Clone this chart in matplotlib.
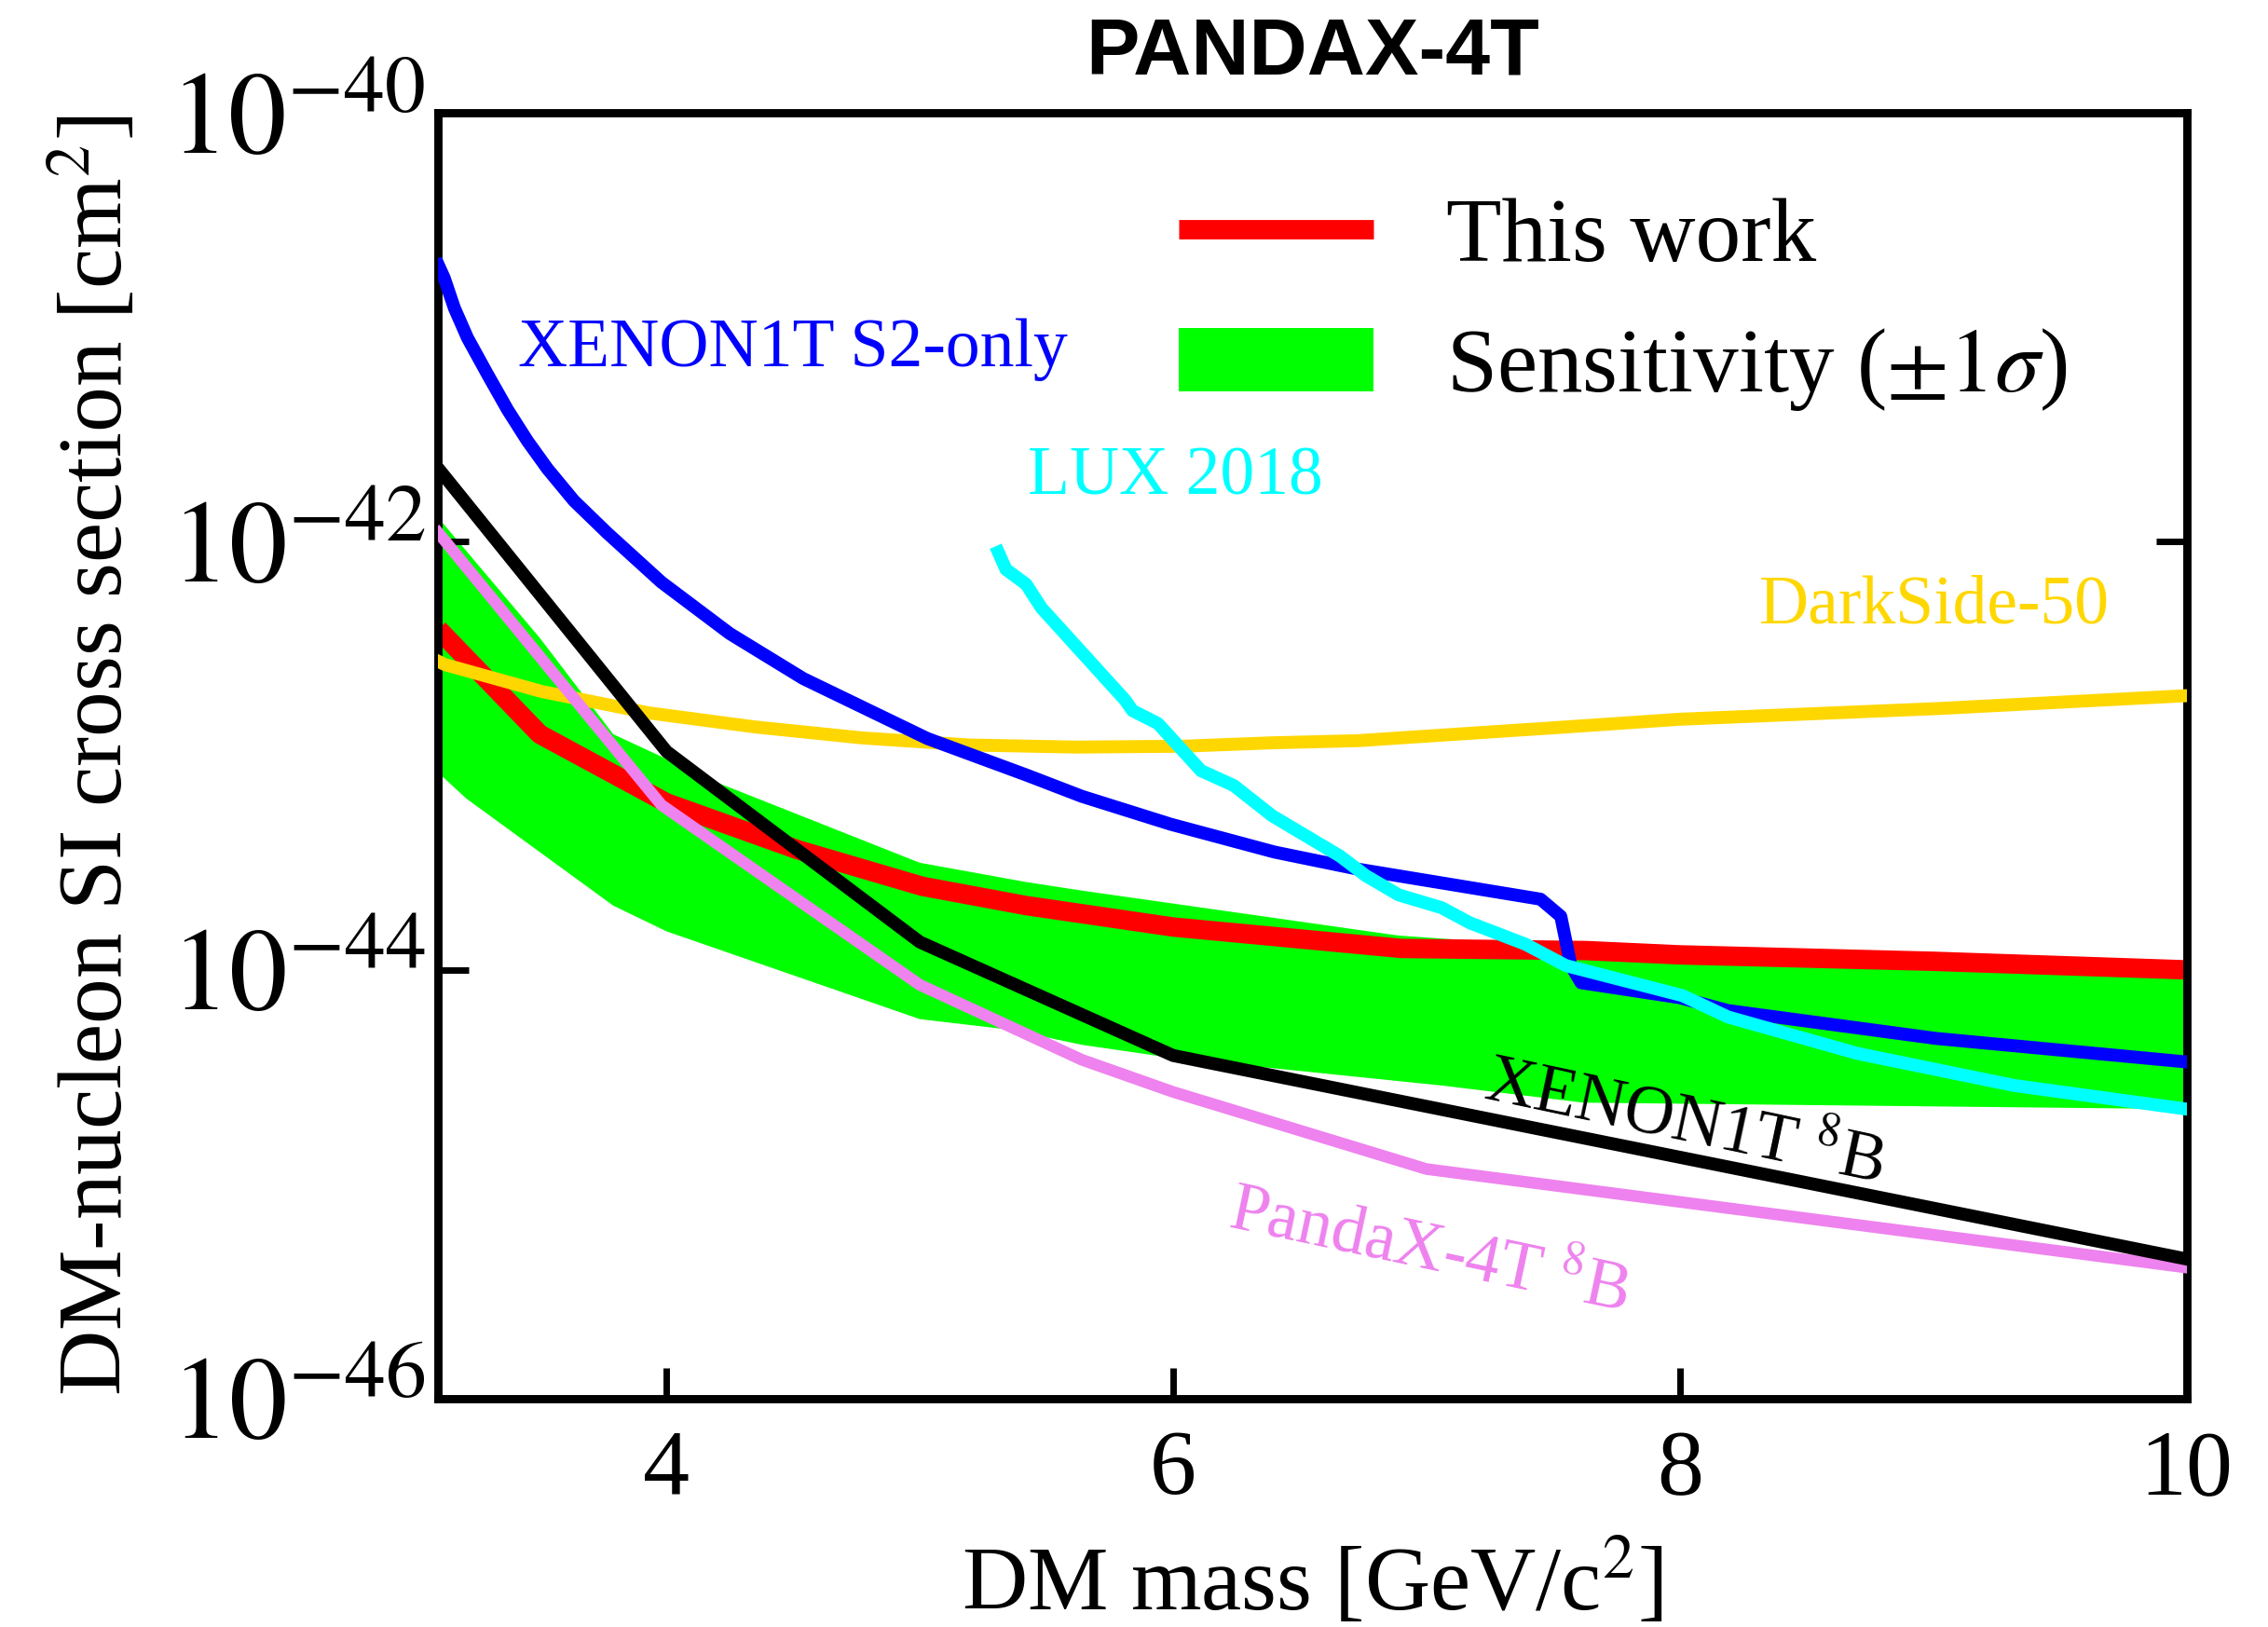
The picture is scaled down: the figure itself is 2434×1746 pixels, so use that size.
import numpy as np
import matplotlib
matplotlib.use('Agg')
import matplotlib.pyplot as plt
from matplotlib.lines import Line2D
from matplotlib.patches import Patch
from matplotlib.ticker import NullLocator

plt.rcParams['font.family'] = ['Liberation Serif', 'DejaVu Serif']
plt.rcParams['mathtext.fontset'] = 'stix'

# ---------------- data (mass in GeV/c^2, log10 of cross section in cm^2) ----------------
this_work_mass = [3.10, 3.50, 4.00, 4.52, 5.01, 5.42, 6.00, 6.90, 7.63, 8.00, 9.00, 10.0]
this_work_log = [-42.41, -42.90, -43.22, -43.44, -43.61, -43.70, -43.80, -43.90, -43.91, -43.93, -43.96, -44.00]

band_upper_mass = [3.10, 3.50, 3.79, 4.21, 5.00, 5.42, 5.64, 6.89, 8.00, 9.00, 10.0]
band_upper_log = [-41.89, -42.45, -42.90, -43.13, -43.50, -43.59, -43.63, -43.84, -43.93, -43.96, -44.00]
band_lower_mass = [3.10, 3.21, 3.79, 4.00, 5.00, 5.36, 5.64, 5.99, 7.06, 7.62, 10.0]
band_lower_log = [-43.08, -43.20, -43.70, -43.82, -44.23, -44.28, -44.35, -44.41, -44.54, -44.62, -44.65]

s2_mass = [3.10, 3.123, 3.163, 3.215, 3.294, 3.373, 3.451, 3.530, 3.635, 3.766, 3.98, 4.25, 4.54,
           5.03, 5.42, 5.64, 5.99, 6.40, 6.73, 7.45, 7.53, 7.57, 7.61, 8.00, 8.19, 9.01, 10.0]
s2_log = [-40.71, -40.77, -40.91, -41.05, -41.22, -41.385, -41.53, -41.66, -41.81, -41.96, -42.19,
          -42.43, -42.64, -42.92, -43.09, -43.19, -43.32, -43.45, -43.53, -43.67, -43.75, -43.98,
          -44.06, -44.13, -44.19, -44.32, -44.43]

lux_mass = [5.31, 5.34, 5.42, 5.48, 5.81, 5.84, 5.94, 6.11, 6.24, 6.39, 6.66, 6.76, 6.89, 7.06,
            7.17, 7.39, 7.55, 8.01, 8.19, 8.70, 9.32, 10.0]
lux_log = [-42.05, -42.13, -42.20, -42.31, -42.74, -42.79, -42.85, -43.07, -43.14, -43.28, -43.47,
           -43.56, -43.65, -43.71, -43.78, -43.88, -43.98, -44.12, -44.22, -44.39, -44.54, -44.65]

ds_mass = [3.10, 3.126, 3.506, 3.928, 4.35, 4.771, 5.193, 5.615, 6.037, 6.39, 6.73, 7.50, 8.00,
           9.02, 10.0]
ds_log = [-42.56, -42.575, -42.70, -42.80, -42.866, -42.917, -42.95, -42.96, -42.956, -42.94,
          -42.93, -42.87, -42.83, -42.78, -42.72]

x8b_mass = [3.10, 4.00, 5.00, 6.00, 10.0]
x8b_log = [-41.66, -42.98, -43.87, -44.40, -45.35]

p8b_mass = [3.10, 3.98, 5.00, 5.64, 6.00, 7.00, 10.0]
p8b_log = [-41.96, -43.23, -44.07, -44.42, -44.57, -44.93, -45.39]

x_ticks = [4, 6, 8, 10]
y_ticks = [1e-46, 1e-44, 1e-42, 1e-40]
y_tick_labels = [r'$10^{-46}$', r'$10^{-44}$', r'$10^{-42}$', r'$10^{-40}$']


def sig(v):
    return 10.0 ** np.asarray(v)


# ---------------- figure ----------------
fig = plt.figure(figsize=(12.17, 8.73), dpi=200)
ax = fig.add_axes([0.1933, 0.1406, 0.7708, 0.7899])
ax.set_yscale('log')

band_x = np.concatenate([band_upper_mass, band_lower_mass[::-1]])
band_y = np.concatenate([sig(band_upper_log), sig(band_lower_log)[::-1]])
ax.fill(band_x, band_y, color=(0, 1, 0), lw=0, zorder=1)

ax.plot(this_work_mass, sig(this_work_log), color='red', lw=7.5, zorder=2,
        solid_capstyle='butt')
ax.plot(ds_mass, sig(ds_log), color='gold', lw=5, zorder=3)
ax.plot(p8b_mass, sig(p8b_log), color='violet', lw=4.5, zorder=4)
ax.plot(x8b_mass, sig(x8b_log), color='black', lw=5, zorder=5)
ax.plot(s2_mass, sig(s2_log), color='blue', lw=5, zorder=6)
ax.plot(lux_mass, sig(lux_log), color='cyan', lw=5, zorder=7)

ax.set_xlim(3.1, 10)
ax.set_ylim(1e-46, 1e-40)
ax.set_xticks(x_ticks)
ax.set_xticklabels([str(t) for t in x_ticks])
ax.set_yticks(y_ticks)
ax.set_yticklabels(y_tick_labels)
ax.yaxis.set_minor_locator(NullLocator())
ax.xaxis.set_minor_locator(NullLocator())
ax.tick_params(direction='in', length=12, width=2.5, top=False, right=True)
ax.tick_params(axis='x', labelsize=36, pad=12)
ax.tick_params(axis='y', labelsize=45, pad=5)
for s in ax.spines.values():
    s.set_linewidth(3.2)

ax.set_xlabel('DM mass [GeV/c$^2$]', fontsize=35, labelpad=10)
ax.set_ylabel('DM-nucleon SI cross section [cm$^2$]', fontsize=35, labelpad=11)
ax.set_title('PANDAX-4T', fontsize=31, fontweight='bold', family='Liberation Sans', pad=15)

# curve labels
ax.text(3.416, 10 ** -41.18, 'XENON1T S2-only', color='blue', fontsize=26.5,
        ha='left', va='baseline')
ax.text(5.426, 10 ** -41.78, 'LUX 2018', color='cyan', fontsize=26.5,
        ha='left', va='baseline')
ax.text(8.314, 10 ** -42.38, 'DarkSide-50', color='gold', fontsize=26.5,
        ha='left', va='baseline')
ax.text(7.22, 10 ** -44.60, r'XENON1T $^{8}$B', color='black', fontsize=26.5,
        ha='left', va='baseline', rotation=-12, rotation_mode='anchor')
ax.text(6.21, 10 ** -45.20, r'PandaX-4T $^{8}$B', color='violet', fontsize=26.5,
        ha='left', va='baseline', rotation=-12, rotation_mode='anchor')

handles = [Line2D([], [], color='red', lw=7.5, solid_capstyle='butt'),
           Patch(facecolor=(0, 1, 0), edgecolor='none')]
ax.legend(handles, ['This work', r'Sensitivity ($\pm1\sigma$)'], loc='upper left',
          bbox_to_anchor=(0.4235, 0.934), frameon=False, fontsize=35,
          handlelength=2.15, handleheight=0.7, handletextpad=0.8,
          labelspacing=0.5, borderpad=0, borderaxespad=0)

fig.savefig('out.png', dpi=200)
